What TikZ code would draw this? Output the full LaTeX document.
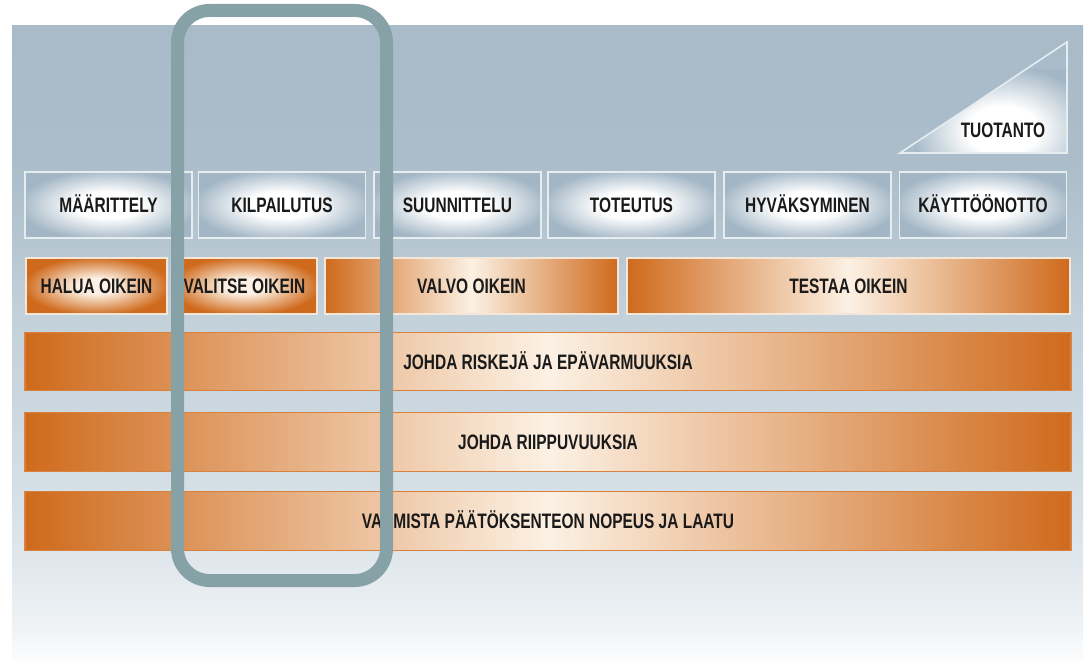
\documentclass[tikz,border=0pt]{standalone}
\usepackage{fontspec}
\newfontfamily\lbl[FakeStretch=0.74]{Liberation Sans}

\definecolor{pnl0}{HTML}{FBFCFD}
\definecolor{pnl1}{HTML}{EEF2F5}
\definecolor{pnl2}{HTML}{E0E7EC}
\definecolor{pnl3}{HTML}{D4DEE5}
\definecolor{pnl4}{HTML}{CBD7DF}
\definecolor{pnl5}{HTML}{C3D1DA}
\definecolor{pnl6}{HTML}{B7C7D2}
\definecolor{pnl7}{HTML}{ABBDCA}
\definecolor{pnl8}{HTML}{A9BBC8}
\definecolor{phaseedge}{HTML}{A2B6C5}
\definecolor{phaseline}{HTML}{E6EDF1}
\definecolor{orng}{HTML}{CF6A1C}
\definecolor{orngpale}{HTML}{FCF1E4}
\definecolor{orngline}{HTML}{F4E6D8}
\definecolor{barline}{HTML}{D9823F}
\definecolor{ink}{HTML}{1A1A1A}
\definecolor{frame}{HTML}{87A2A6}

\pgfdeclareverticalshading{panelfade}{100bp}{color(0bp)=(pnl0); color(25bp)=(pnl0);
    color(28bp)=(pnl1); color(33bp)=(pnl2); color(39bp)=(pnl3); color(45.5bp)=(pnl4);
    color(52bp)=(pnl5); color(57.5bp)=(pnl6); color(64.5bp)=(pnl7); color(75bp)=(pnl8);
    color(100bp)=(pnl8)}
\pgfdeclareradialshading{phaseglow}{\pgfpoint{0bp}{0bp}}{color(0bp)=(white);
    color(10bp)=(white); color(27bp)=(phaseedge); color(50bp)=(phaseedge)}
\pgfdeclareradialshading{goalglow}{\pgfpoint{0bp}{0bp}}{color(0bp)=(orngpale);
    color(7bp)=(orngpale); color(26bp)=(orng); color(50bp)=(orng)}

\begin{document}
\begin{tikzpicture}[x=0.02cm, y=-0.02cm,
        lab/.style={font=\lbl\bfseries\fontsize{11.9}{12}\selectfont, text=ink,
            text height=8.6pt, text depth=0pt, inner sep=0pt},
        phase/.style={lab, draw=phaseline, line width=0.9pt, shading=phaseglow,
            minimum width=3.34cm, minimum height=1.32cm},
        goal/.style={lab, draw=orngline, line width=0.7pt, minimum height=1.12cm},
        radgoal/.style={shading=goalglow},
        axgoal/.style={left color=orng, right color=orng, middle color=orngpale},
        bar/.style={lab, draw=barline, line width=0.7pt, left color=orng, right color=orng,
            middle color=orngpale, minimum width=20.92cm, minimum height=1.17cm}]
        \useasboundingbox (0,0) rectangle (1089,662);
        \shade[shading=panelfade] (12,26) rectangle (1083,660);

        % tuotanto
        \begin{scope}
            \clip (900,153) -- (1067,153) -- (1067,42) -- cycle;
            \shade[shading=phaseglow] (915,70) rectangle (1090,190);
        \end{scope}
        \draw[phaseline, line width=0.9pt] (900,153) -- (1067,153) -- (1067,42) -- cycle;
        \node[lab] (tuot) at (1003,130) {TUOTANTO};

        \node[phase] (maar) at (108.5,205) {MÄÄRITTELY};
        \node[phase] (kilp) at (282,205) {KILPAILUTUS};
        \node[phase] (suun) at (457.5,205) {SUUNNITTELU};
        \node[phase] (tote) at (631.5,205) {TOTEUTUS};
        \node[phase] (hyva) at (807.5,205) {HYVÄKSYMINEN};
        \node[phase] (kayt) at (983,205) {KÄYTTÖÖNOTTO};

        \node[goal, radgoal, minimum width=2.82cm] (halua) at (96.5,286) {HALUA OIKEIN};
        \node[goal, radgoal, minimum width=2.9cm] (valitse) at (244.5,286) {VALITSE OIKEIN};
        \node[goal, axgoal, minimum width=5.86cm] (valvo) at (471.5,286) {VALVO OIKEIN};
        \node[goal, axgoal, minimum width=8.86cm] (testaa) at (848.5,286) {TESTAA OIKEIN};

        \node[bar] (riskit) at (548,361.5) {JOHDA RISKEJÄ JA EPÄVARMUUKSIA};
        \node[bar] (riippu) at (548,442) {JOHDA RIIPPUVUUKSIA};
        \node[bar] (varm) at (548,521) {VARMISTA PÄÄTÖKSENTEON NOPEUS JA LAATU};

        \draw[frame, line width=0.26cm, rounded corners=0.64cm] (177.5,10.5) rectangle (386.5,580.5);
\end{tikzpicture}
\end{document}
